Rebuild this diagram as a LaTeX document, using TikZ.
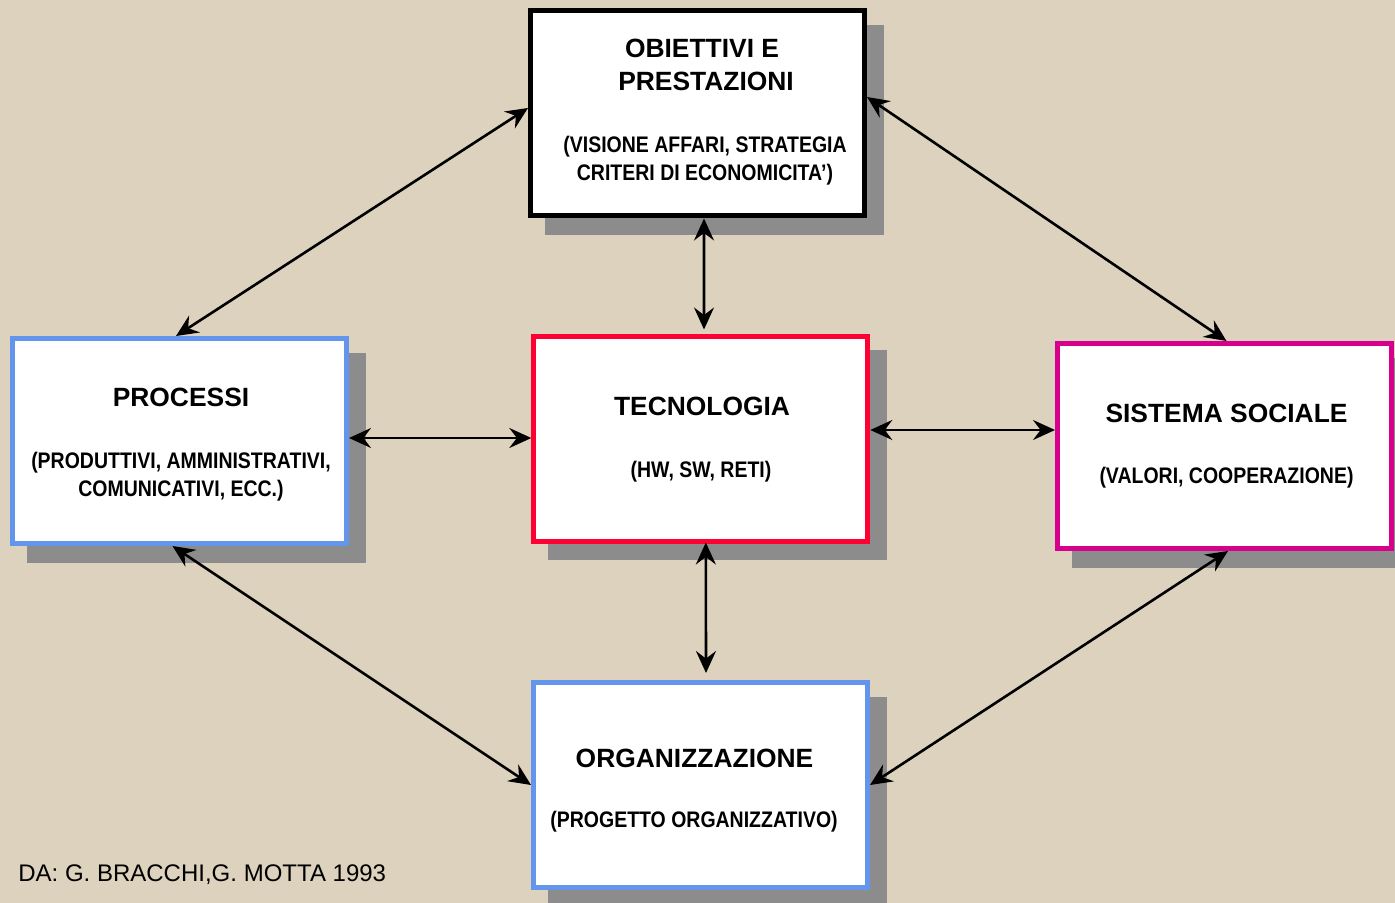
\documentclass[tikz,border=0pt]{standalone}
\usepackage{fontspec}
\setmainfont{Liberation Sans}
\newfontfamily\subfont[FakeStretch=0.866]{Liberation Sans}
\usetikzlibrary{arrows.meta,backgrounds}
\definecolor{bgbeige}{RGB}{221,210,189}
\definecolor{shadowgray}{RGB}{140,140,140}
\definecolor{boxblue}{RGB}{100,149,237}
\definecolor{boxred}{RGB}{255,0,51}
\definecolor{boxmagenta}{RGB}{214,0,140}
\tikzset{
  box/.style={draw, fill=white, line width=2.5pt, minimum width=167pt, minimum height=102.5pt, inner sep=0pt},
  ttl/.style={font=\fontsize{13.2pt}{16pt}\selectfont\bfseries, anchor=base, inner sep=0pt},
  sub/.style={font=\subfont\fontsize{11.25pt}{13.5pt}\selectfont\bfseries, anchor=base, inner sep=0pt},
  foot/.style={font=\fontsize{12pt}{14pt}\selectfont, anchor=base west, inner sep=0pt},
  tipx/.tip={Stealth[length=11pt,width=10pt,inset=3.8pt]},
  link/.style={line width=1.3pt, tipx-tipx},
}
\begin{document}
\begin{tikzpicture}[x=0.5pt,y=-0.5pt]
\useasboundingbox (0,0) rectangle (1395,903);
% boxes
\node[box, draw=black]      (ob) at (697.5,113.5) {};
\node[box, draw=boxblue]    (pr) at (179.5,441) {};
\node[box, draw=boxred]     (te) at (700.8,438.5) {};
\node[box, draw=boxmagenta] (ss) at (1224.5,446) {};
\node[box, draw=boxblue]    (og) at (700.5,785) {};
% background and shadows
\begin{scope}[on background layer]
  \fill[bgbeige] (0,0) rectangle (1395,903);
  \clip (0,0) rectangle (1395,903);
  \foreach \n in {ob,pr,te,ss,og}
    \fill[shadowgray] ([shift={(16.5,16.5)}]\n.north west) rectangle ([shift={(16.5,16.5)}]\n.south east);
\end{scope}
% texts
\node[ttl] (ob1) at (702,58) {OBIETTIVI E};
\node[ttl] (ob2) at (706,91) {PRESTAZIONI};
\node[sub] (ob3) at (705,153) {(VISIONE AFFARI, STRATEGIA};
\node[sub] (ob4) at (705,181) {CRITERI DI ECONOMICITA’)};
\node[ttl] (pr1) at (181,406) {PROCESSI};
\node[sub] (pr2) at (181,468) {(PRODUTTIVI, AMMINISTRATIVI,};
\node[sub] (pr3) at (181,496) {COMUNICATIVI, ECC.)};
\node[ttl] (te1) at (702,415) {TECNOLOGIA};
\node[sub] (te2) at (701,477) {(HW, SW, RETI)};
\node[ttl] (ss1) at (1226.5,422) {SISTEMA SOCIALE};
\node[sub] (ss2) at (1226.5,483) {(VALORI, COOPERAZIONE)};
\node[ttl] (og1) at (694.5,767) {ORGANIZZAZIONE};
\node[sub] (og2) at (694,827) {(PROGETTO ORGANIZZATIVO)};
\node[foot] (src) at (18,881) {DA: G. BRACCHI,G. MOTTA 1993};
% connectors
\draw[link] ([shift={(0,-5.5)}]ob.west) -- ([shift={(-3.5,0)}]pr.north);
\draw[link] ([shift={(0,-16.5)}]ob.east) -- ([shift={(2,0)}]ss.north);
\draw[link] ([shift={(6.5,0)}]ob.south) -- ([shift={(3.2,-4)}]te.north);
\draw[link] ([shift={(0,-3)}]pr.east) -- ([shift={(0,-0.5)}]te.west);
\draw[link] ([shift={(0,-8.5)}]te.east) -- ([shift={(0,-16)}]ss.west);
\draw[link] ([shift={(5,-1)}]te.south) -- ([shift={(5.5,-7)}]og.north);
\draw[link] ([shift={(-7,0)}]pr.south) -- (og.west);
\draw[link] ([shift={(3.5,0)}]ss.south) -- (og.east);
\end{tikzpicture}
\end{document}
